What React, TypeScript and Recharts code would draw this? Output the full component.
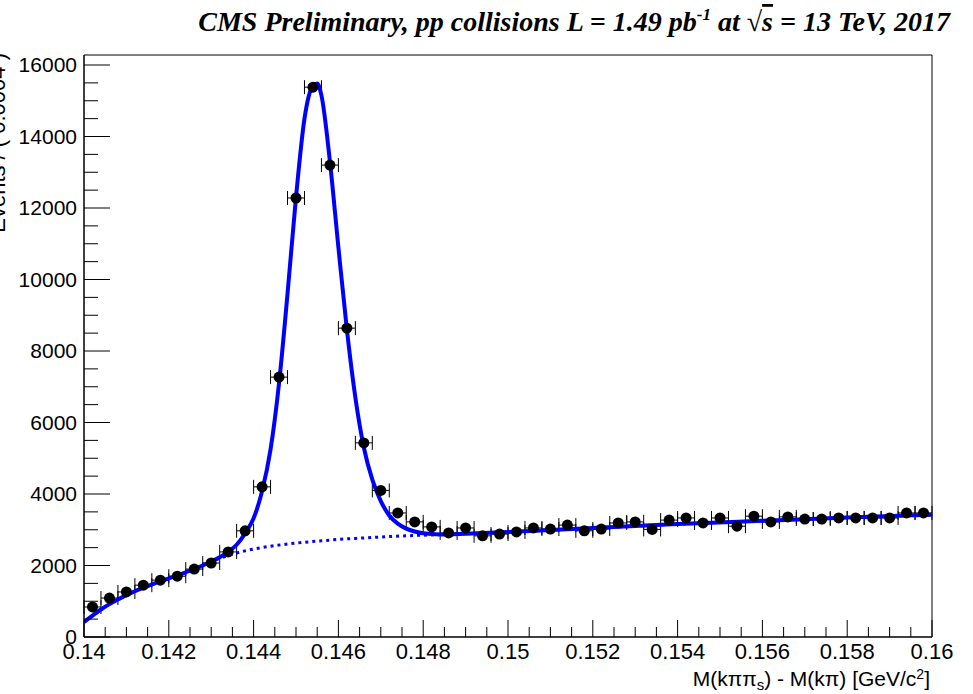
import React from 'react';
import { ComposedChart, Scatter, Line, XAxis, YAxis, ErrorBar, ReferenceArea } from 'recharts';

// Histogram bin centres (GeV/c^2) and counts
const binCenters = [
  0.1402, 0.1406, 0.1410, 0.1414, 0.1418, 0.1422, 0.1426, 0.1430, 0.1434, 0.1438,
  0.1442, 0.1446, 0.1450, 0.1454, 0.1458, 0.1462, 0.1466, 0.1470, 0.1474, 0.1478,
  0.1482, 0.1486, 0.1490, 0.1494, 0.1498, 0.1502, 0.1506, 0.1510, 0.1514, 0.1518,
  0.1522, 0.1526, 0.1530, 0.1534, 0.1538, 0.1542, 0.1546, 0.1550, 0.1554, 0.1558,
  0.1562, 0.1566, 0.1570, 0.1574, 0.1578, 0.1582, 0.1586, 0.1590, 0.1594, 0.1598,
];
const eventCounts = [
  840, 1090, 1260, 1450, 1590, 1700, 1900, 2070, 2380, 2970,
  4200, 7270, 12280, 15380, 13200, 8640, 5430, 4100, 3470, 3220,
  3080, 2910, 3050, 2830, 2880, 2940, 3050, 3020, 3130, 2970,
  3020, 3190, 3220, 3010, 3270, 3330, 3190, 3330, 3100, 3380,
  3220, 3360, 3300, 3300, 3330, 3330, 3330, 3330, 3470, 3470,
];
const binHalfWidth = 0.0002;

// Total fit (signal + background)
const fitX = [
  0.1400, 0.1402, 0.1404, 0.1406, 0.1408, 0.1410, 0.1412, 0.1414, 0.1416, 0.1418,
  0.1420, 0.1422, 0.1424, 0.1426, 0.1428, 0.1430, 0.1432, 0.1434, 0.1436, 0.1438,
  0.1440, 0.1442, 0.1444, 0.1446, 0.1448, 0.1450, 0.1452, 0.1454, 0.1455, 0.1456,
  0.1458, 0.1460, 0.1462, 0.1464, 0.1466, 0.1468, 0.1470, 0.1472, 0.1474, 0.1476,
  0.1478, 0.1480, 0.1484, 0.1490, 0.1500, 0.1520, 0.1540, 0.1560, 0.1580, 0.1600,
];
const fitY = [
  420, 600, 770, 920, 1050, 1170, 1280, 1380, 1470, 1560,
  1640, 1720, 1810, 1900, 2000, 2110, 2230, 2380, 2580, 2900,
  3320, 4080, 5250, 7100, 9600, 12300, 14500, 15420, 15480, 15150,
  13300, 10900, 8600, 6700, 5300, 4400, 3800, 3400, 3170, 3030,
  2950, 2900, 2870, 2890, 2940, 3050, 3160, 3250, 3340, 3420,
];

// Background-only component
const bkgX = [
  0.1400, 0.1402, 0.1404, 0.1406, 0.1408, 0.1410, 0.1412, 0.1414, 0.1416, 0.1418,
  0.1420, 0.1422, 0.1424, 0.1426, 0.1428, 0.1430, 0.1432, 0.1434, 0.1436, 0.1438,
  0.1440, 0.1444, 0.1448, 0.1452, 0.1456, 0.1460, 0.1466, 0.1472, 0.1478, 0.1484,
  0.1490, 0.1500, 0.1520, 0.1540, 0.1560, 0.1580, 0.1600,
];
const bkgY = [
  420, 600, 770, 920, 1050, 1170, 1280, 1380, 1470, 1560,
  1640, 1720, 1810, 1900, 2000, 2110, 2200, 2280, 2350, 2410,
  2460, 2540, 2600, 2650, 2690, 2730, 2770, 2810, 2840, 2865,
  2890, 2940, 3050, 3160, 3250, 3340, 3420,
];

const xMajorTicks = [0.14, 0.142, 0.144, 0.146, 0.148, 0.15, 0.152, 0.154, 0.156, 0.158, 0.16];
const xTickLabels = ['0.14', '0.142', '0.144', '0.146', '0.148', '0.15', '0.152', '0.154', '0.156', '0.158', '0.16'];
const xMinorTicks = [
  0.1405, 0.141, 0.1415, 0.1425, 0.143, 0.1435, 0.1445, 0.145, 0.1455, 0.1465,
  0.147, 0.1475, 0.1485, 0.149, 0.1495, 0.1505, 0.151, 0.1515, 0.1525, 0.153,
  0.1535, 0.1545, 0.155, 0.1555, 0.1565, 0.157, 0.1575, 0.1585, 0.159, 0.1595,
];
const yMajorTicks = [0, 2000, 4000, 6000, 8000, 10000, 12000, 14000, 16000];
const yTickLabels = ['0', '2000', '4000', '6000', '8000', '10000', '12000', '14000', '16000'];
const yMinorTicks = [
  500, 1000, 1500, 2500, 3000, 3500, 4500, 5000, 5500, 6500, 7000, 7500,
  8500, 9000, 9500, 10500, 11000, 11500, 12500, 13000, 13500, 14500, 15000, 15500,
];
const xDomain = [0.14, 0.16];
const yDomain = [0, 16280];

const pointData = binCenters.map((x, i) => ({ x, y: eventCounts[i], xerr: binHalfWidth }));
const fitData = fitX.map((x, i) => ({ x, y: fitY[i] }));
const bkgData = bkgX.map((x, i) => ({ x, y: bkgY[i] }));

const sans = 'Liberation Sans, Arial, Helvetica, sans-serif';
const serif = 'Liberation Serif, Times New Roman, serif';

const findIdx = (arr: number[], v: number) => arr.findIndex((t) => Math.abs(t - v) < 1e-9);

const renderXTick = (props: any) => {
  const { x, y, payload } = props;
  const idx = findIdx(xMajorTicks, payload.value);
  const major = idx >= 0;
  return (
    <g key={`xt-${payload.value}`}>
      <line x1={x} x2={x} y1={y} y2={y - (major ? 17 : 10)} stroke="#000" strokeWidth={1} />
      {major && (
        <text x={x} y={y + 22} textAnchor="middle" fontFamily={sans} fontSize={22} fill="#000">
          {xTickLabels[idx]}
        </text>
      )}
    </g>
  );
};

const renderYTick = (props: any) => {
  const { x, y, payload } = props;
  const idx = findIdx(yMajorTicks, payload.value);
  const major = idx >= 0;
  return (
    <g key={`yt-${payload.value}`}>
      <line x1={x} x2={x + (major ? 26 : 14)} y1={y} y2={y} stroke="#000" strokeWidth={1} />
      {major && (
        <text x={x - 7} y={y + 7} textAnchor="end" fontFamily={sans} fontSize={21} fill="#000">
          {yTickLabels[idx]}
        </text>
      )}
    </g>
  );
};

const Marker = (props: any) => {
  const { cx, cy } = props;
  return <circle cx={cx} cy={cy} r={5.5} fill="#000" />;
};

export default function App() {
  return (
    <div style={{ position: 'fixed', left: 0, top: 0, width: 973, height: 694, background: '#fff' }}>
      <ComposedChart width={973} height={694} margin={{ top: 55, right: 41, bottom: 0, left: 0 }}>
        <XAxis
          type="number"
          dataKey="x"
          domain={xDomain}
          ticks={[...xMajorTicks, ...xMinorTicks]}
          interval={0}
          allowDataOverflow
          height={57}
          tickSize={0}
          tickMargin={0}
          tickLine={false}
          axisLine={{ stroke: '#000', strokeWidth: 1 }}
          tick={renderXTick}
        />
        <YAxis
          type="number"
          domain={yDomain}
          ticks={[...yMajorTicks, ...yMinorTicks]}
          interval={0}
          allowDataOverflow
          width={84}
          tickSize={0}
          tickMargin={0}
          tickLine={false}
          axisLine={{ stroke: '#000', strokeWidth: 1 }}
          tick={renderYTick}
        />
        <ReferenceArea x1={0.14} x2={0.16} y1={0} y2={16280} fill="none" stroke="#000" strokeWidth={1} ifOverflow="visible" />
        <Scatter data={pointData} dataKey="y" isAnimationActive={false} shape={<Marker />}>
          <ErrorBar dataKey="xerr" direction="x" width={7} stroke="#000" strokeWidth={1} />
        </Scatter>
        <Line
          data={bkgData}
          dataKey="y"
          type="monotone"
          stroke="#0000ff"
          strokeWidth={3}
          strokeDasharray="3 4"
          dot={false}
          activeDot={false}
          isAnimationActive={false}
        />
        <Line
          data={fitData}
          dataKey="y"
          type="monotone"
          stroke="#0000ff"
          strokeWidth={4}
          dot={false}
          activeDot={false}
          isAnimationActive={false}
        />
      </ComposedChart>
      <svg width={973} height={694} style={{ position: 'absolute', left: 0, top: 0, pointerEvents: 'none' }}>
        <text x={950} y={31} textAnchor="end" fontFamily={serif} fontWeight="bold" fontStyle="italic" fontSize={28} fill="#000">
          CMS Preliminary, pp collisions L = 1.49 pb
          <tspan dy={-11} fontSize={17}>-1</tspan>
          <tspan dy={11}>{'  at   '}</tspan>
          <tspan fontStyle="normal" fontWeight="normal">√</tspan>
          <tspan textDecoration="overline">s</tspan>
          <tspan> = 13 TeV, 2017</tspan>
        </text>
        <text x={930} y={686} textAnchor="end" fontFamily={sans} fontSize={21} fill="#000">
          M(kππ
          <tspan dy={4} fontSize={15}>s</tspan>
          <tspan dy={-4}>) - M(kπ) [GeV/c</tspan>
          <tspan dy={-7} fontSize={14}>2</tspan>
          <tspan dy={7}>]</tspan>
        </text>
        <text transform="translate(5,53) rotate(-90)" textAnchor="end" fontFamily={sans} fontSize={22} fill="#000">
          Events / ( 0.0004 )
        </text>
      </svg>
    </div>
  );
}
